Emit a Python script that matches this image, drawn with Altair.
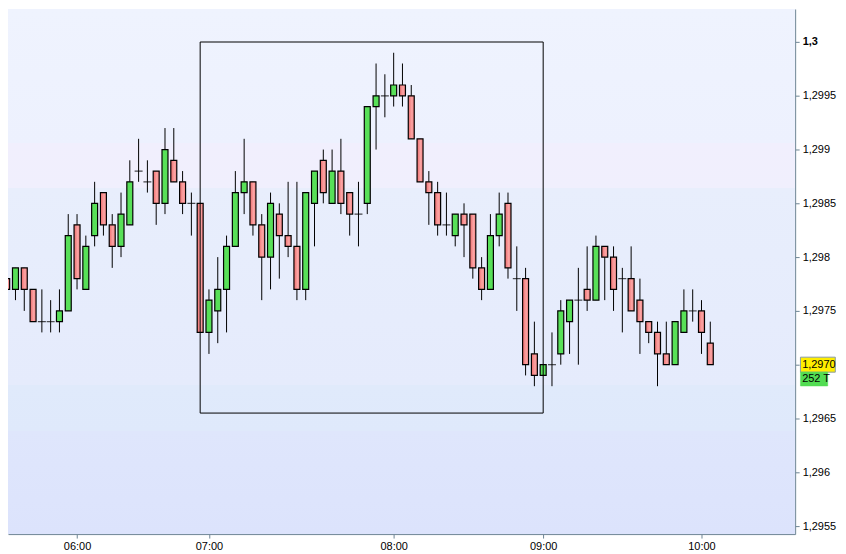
import altair as alt
import pandas as pd

# tick bars (252 T)
BAR = list(range(81))
OPEN = [1.2978, 1.2977, 1.2979, 1.2977, 1.2974, 1.2974, 1.2974, 1.2975, 1.2983, 1.2977,
        1.2982, 1.2986, 1.2983, 1.2981, 1.2983, 1.2988, 1.2987, 1.2988, 1.2985, 1.2989,
        1.2987, 1.2985, 1.2985, 1.2973, 1.2975, 1.2977, 1.2981, 1.2986, 1.2987, 1.2983,
        1.2980, 1.2984, 1.2982, 1.2981, 1.2977, 1.2985, 1.2989, 1.2985, 1.2988, 1.2986,
        1.2984, 1.2985, 1.2994, 1.2995, 1.2995, 1.2996, 1.2995, 1.2991, 1.2987, 1.2986,
        1.2983, 1.2982, 1.2984, 1.2984, 1.2979, 1.2977, 1.2982, 1.2985, 1.2978, 1.2978,
        1.2971, 1.2969, 1.2970, 1.2971, 1.2974, 1.2976, 1.2977, 1.2976, 1.2981, 1.2980,
        1.2978, 1.2978, 1.2976, 1.2974, 1.2973, 1.2971, 1.2970, 1.2973, 1.2975, 1.2975,
        1.2972]
HIGH = [1.2978, 1.2979, 1.2979, 1.2977, 1.2977, 1.2976, 1.2977, 1.2984, 1.2984, 1.2982,
        1.2987, 1.2986, 1.2984, 1.2986, 1.2989, 1.2991, 1.2989, 1.2988, 1.2992, 1.2992,
        1.2988, 1.2986, 1.2985, 1.2977, 1.2980, 1.2982, 1.2988, 1.2991, 1.2987, 1.2984,
        1.2986, 1.2985, 1.2987, 1.2987, 1.2986, 1.2988, 1.2990, 1.2990, 1.2991, 1.2986,
        1.2987, 1.2994, 1.2998, 1.2997, 1.2999, 1.2998, 1.2996, 1.2991, 1.2988, 1.2987,
        1.2986, 1.2984, 1.2985, 1.2984, 1.2980, 1.2984, 1.2986, 1.2986, 1.2981, 1.2979,
        1.2974, 1.2970, 1.2973, 1.2976, 1.2976, 1.2979, 1.2981, 1.2982, 1.2981, 1.2981,
        1.2979, 1.2981, 1.2978, 1.2974, 1.2974, 1.2974, 1.2974, 1.2977, 1.2977, 1.2976,
        1.2974]
LOW = [1.2976, 1.2976, 1.2975, 1.2974, 1.2973, 1.2973, 1.2973, 1.2975, 1.2977, 1.2977,
       1.2981, 1.2982, 1.2979, 1.2980, 1.2983, 1.2987, 1.2986, 1.2983, 1.2984, 1.2987,
       1.2984, 1.2982, 1.2973, 1.2971, 1.2972, 1.2973, 1.2981, 1.2984, 1.2982, 1.2976,
       1.2977, 1.2978, 1.2980, 1.2976, 1.2976, 1.2981, 1.2985, 1.2985, 1.2984, 1.2982,
       1.2981, 1.2984, 1.2990, 1.2993, 1.2994, 1.2994, 1.2991, 1.2987, 1.2983, 1.2982,
       1.2982, 1.2981, 1.2980, 1.2978, 1.2976, 1.2977, 1.2981, 1.2978, 1.2975, 1.2969,
       1.2968, 1.2969, 1.2968, 1.2970, 1.2971, 1.2970, 1.2975, 1.2976, 1.2976, 1.2975,
       1.2973, 1.2975, 1.2971, 1.2972, 1.2968, 1.2970, 1.2970, 1.2973, 1.2974, 1.2971,
       1.2970]
CLOSE = [1.2977, 1.2979, 1.2977, 1.2974, 1.2974, 1.2974, 1.2975, 1.2982, 1.2978, 1.2981,
         1.2985, 1.2983, 1.2981, 1.2984, 1.2987, 1.2988, 1.2987, 1.2985, 1.2990, 1.2987,
         1.2985, 1.2985, 1.2973, 1.2976, 1.2977, 1.2981, 1.2986, 1.2987, 1.2983, 1.2980,
         1.2985, 1.2982, 1.2981, 1.2977, 1.2986, 1.2988, 1.2986, 1.2988, 1.2985, 1.2984,
         1.2984, 1.2994, 1.2995, 1.2995, 1.2996, 1.2995, 1.2991, 1.2987, 1.2986, 1.2983,
         1.2983, 1.2984, 1.2983, 1.2979, 1.2977, 1.2982, 1.2984, 1.2979, 1.2978, 1.2970,
         1.2969, 1.2970, 1.2970, 1.2975, 1.2976, 1.2976, 1.2976, 1.2981, 1.2980, 1.2977,
         1.2978, 1.2975, 1.2974, 1.2973, 1.2971, 1.2970, 1.2974, 1.2975, 1.2975, 1.2973,
         1.2970]

TIME_TICKS = [8, 23, 44, 61, 79]
TIME_LABELS = ['06:00', '07:00', '08:00', '09:00', '10:00']
PRICE_TICKS = [1.2955, 1.296, 1.2965, 1.297, 1.2975, 1.298, 1.2985, 1.299, 1.2995, 1.3]

# drawn rectangle (bar from/to, price from/to)
BOX_BARS = [22, 61]
BOX_PRICES = [1.29655, 1.3]

LAST_PRICE = 1.2970
LAST_LABEL = '1,2970'
TICKS_LABEL = '252 T'

W, H = 790, 527
FONT = 'Liberation Sans'
AXIS_COLOR = '#6d8595'
GREEN = '#58e058'

df = pd.DataFrame({'bar': BAR, 'open': OPEN, 'high': HIGH, 'low': LOW, 'close': CLOSE})
df['dir'] = ['up' if c > o else ('down' if c < o else 'flat') for o, c in zip(OPEN, CLOSE)]

x_scale = alt.Scale(domain=[0.15, 89.65], nice=False, zero=False, padding=0)
y_scale = alt.Scale(domain=[1.295425, 1.300307], nice=False, zero=False, padding=0)

x_enc = alt.X('bar:Q', scale=x_scale,
              axis=alt.Axis(values=TIME_TICKS,
                            labelExpr=" : ".join(f"datum.value == {t} ? '{l}'"
                                                 for t, l in zip(TIME_TICKS, TIME_LABELS)) + " : ''",
                            title=None, grid=False, tickSize=4, labelPadding=2,
                            domainColor=AXIS_COLOR, tickColor=AXIS_COLOR, labelColor='black',
                            labelFont=FONT, labelFontSize=11, zindex=1))
y_enc = alt.Y('low:Q', scale=y_scale,
              axis=alt.Axis(orient='right', values=PRICE_TICKS,
                            labelExpr="abs(datum.value - 1.297) < 1e-7 ? '' : "
                                      "replace(format(datum.value, '.4~f'), '.', ',')",
                            labelFontWeight={"condition": {"test": "abs(datum.value - 1.3) < 1e-7",
                                                           "value": "bold"}, "value": "normal"},
                            title=None, grid=False, tickSize=4, labelPadding=3,
                            domainColor=AXIS_COLOR, tickColor=AXIS_COLOR, labelColor='black',
                            labelFont=FONT, labelFontSize=11, zindex=1))

# banded pale background of the plot area
bg_fill = {"gradient": "linear", "x1": 0, "y1": 0, "x2": 0, "y2": 1,
           "stops": [{"offset": 0, "color": "#eff3fe"}, {"offset": 0.256, "color": "#edf1fe"},
                     {"offset": 0.256, "color": "#f1effd"}, {"offset": 0.34, "color": "#f0effd"},
                     {"offset": 0.34, "color": "#e8eefc"}, {"offset": 0.717, "color": "#e5ebfc"},
                     {"offset": 0.717, "color": "#e0eafb"}, {"offset": 0.803, "color": "#dfe9fb"},
                     {"offset": 0.803, "color": "#dfe6fc"}, {"offset": 1, "color": "#dce3fc"}]}
background = alt.Chart(pd.DataFrame({'a': [0]})).mark_rect(fill=bg_fill).encode(
    x=alt.value(0), x2=alt.value(W), y=alt.value(0), y2=alt.value(H))

wicks = alt.Chart(df).mark_rule(color='black', strokeWidth=1, clip=True).encode(
    x=x_enc, y=y_enc, y2='high:Q')

red_fill = {"gradient": "linear", "x1": 0, "y1": 0, "x2": 1, "y2": 0,
            "stops": [{"offset": 0, "color": "#ee6c6c"}, {"offset": 0.6, "color": "#fba4a4"},
                      {"offset": 1, "color": "#f28282"}]}

up = alt.Chart(df).transform_filter("datum.dir == 'up'").mark_bar(
    width=6, fill=GREEN, stroke='black', strokeWidth=1.2, clip=True).encode(
    x=alt.X('bar:Q', scale=x_scale), y=alt.Y('open:Q', scale=y_scale), y2='close:Q')
down = alt.Chart(df).transform_filter("datum.dir == 'down'").mark_bar(
    width=6, fill=red_fill, stroke='black', strokeWidth=1.2, clip=True).encode(
    x=alt.X('bar:Q', scale=x_scale), y=alt.Y('open:Q', scale=y_scale), y2='close:Q')
flat = alt.Chart(df).transform_filter("datum.dir == 'flat'").mark_tick(
    orient='horizontal', size=8, thickness=1.2, color='black', clip=True).encode(
    x=alt.X('bar:Q', scale=x_scale), y=alt.Y('open:Q', scale=y_scale))

box_df = pd.DataFrame({'b0': [BOX_BARS[0]], 'b1': [BOX_BARS[1]],
                       'p0': [BOX_PRICES[0]], 'p1': [BOX_PRICES[1]]})
box = alt.Chart(box_df).mark_rect(fillOpacity=0, stroke='black', strokeWidth=1).encode(
    x=alt.X('b0:Q', scale=x_scale), x2='b1:Q', y=alt.Y('p0:Q', scale=y_scale), y2='p1:Q')

# last price / tick count tags on the price axis
tag_df = pd.DataFrame({'p': [LAST_PRICE], 'last': [LAST_LABEL], 'ticks': [TICKS_LABEL]})
yellow = alt.Chart(tag_df).mark_point(
    shape='M-1,-0.43L1,-0.43L1,0.43L-1,0.43Z', size=1225, filled=True, fill='#ffee00',
    stroke='#8a9ba6', strokeWidth=1, opacity=1).encode(
    x=alt.value(812.8), y=alt.Y('p:Q', scale=y_scale))
green = alt.Chart(tag_df).mark_point(
    shape='M-1,-0.51L1,-0.51L1,0.51L-1,0.51Z', size=750, filled=True, fill='#52dc52',
    stroke='#52dc52', strokeWidth=0.5, opacity=1, yOffset=14.4).encode(
    x=alt.value(809), y=alt.Y('p:Q', scale=y_scale))
yellow_text = alt.Chart(tag_df).mark_text(
    align='left', baseline='middle', font=FONT, fontSize=11, color='black').encode(
    x=alt.value(797), y=alt.Y('p:Q', scale=y_scale), text='last:N')
green_text = alt.Chart(tag_df).mark_text(
    align='left', baseline='middle', font=FONT, fontSize=11, color='black', dy=14.4).encode(
    x=alt.value(797), y=alt.Y('p:Q', scale=y_scale), text='ticks:N')

chart = alt.layer(background, wicks, up, down, flat, box, yellow, green, yellow_text, green_text).properties(
    width=W, height=H, padding=0
).configure_view(strokeOpacity=0)

chart.save("out.html", embed_options={"renderer": "svg", "actions": False})
